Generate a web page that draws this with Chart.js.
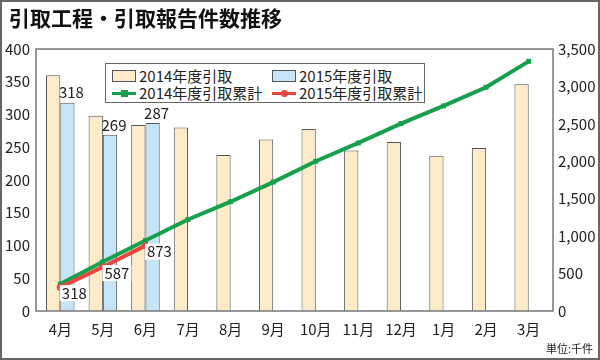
<!DOCTYPE html>
<html lang="ja">
<head>
<meta charset="utf-8">
<script src="https://cdn.jsdelivr.net/npm/chart.js@4.4.1/dist/chart.umd.min.js"></script>
<style>
  html, body { margin: 0; padding: 0; background: #fff; }
  #wrap { position: relative; width: 600px; height: 360px; overflow: hidden;
    font-family: 'Liberation Sans Narrow', 'Noto Sans CJK JP', sans-serif; color: #222; }
  #frame { position: absolute; left: 0; top: 0; width: 600px; height: 360px; box-sizing: border-box;
    border: 2px solid #666; pointer-events: none; }
  #title { position: absolute; left: 9px; top: 3px; font-family: 'Noto Sans CJK JP', sans-serif;
    font-weight: bold; font-size: 21px; line-height: 28px; color: #111; white-space: nowrap; }
  #unit { position: absolute; right: 7px; top: 339px; font-family: 'Noto Sans CJK JP', sans-serif;
    font-size: 11px; line-height: 18px; color: #222; }
  #legend { position: absolute; left: 105px; top: 63px; width: 320px; height: 40px; box-sizing: border-box;
    border: 1.5px solid #666; background: #fff; font-size: 15px; line-height: 17px; }
  .item { position: absolute; white-space: nowrap; display: flex; align-items: center; }
  .sw { display: inline-block; width: 24px; height: 12px; box-sizing: border-box; border: 1px solid #555; margin-right: 3px; }
  .ln { position: relative; display: inline-block; width: 24px; height: 12px; margin-right: 3px; }
  .ln i { position: absolute; left: 0; right: 0; top: 5px; height: 3px; }
  .ln b { position: absolute; left: 9px; top: 3px; width: 7px; height: 7px; }
</style>
</head>
<body>
<div id="wrap">
  <canvas id="c" width="600" height="360"></canvas>
  <div id="title">引取工程・引取報告件数推移</div>
  <div id="legend"></div>
  <div id="unit">単位:千件</div>
  <div id="frame"></div>
</div>
<script>
const months = ['4月','5月','6月','7月','8月','9月','10月','11月','12月','1月','2月','3月'];
const fy2014 = [360, 298, 284, 280, 238, 262, 278, 245, 258, 237, 249, 346];
const fy2015 = [318, 269, 287, null, null, null, null, null, null, null, null, null];
const cum2014 = [360, 658, 942, 1222, 1460, 1722, 2000, 2245, 2503, 2740, 2989, 3335];
const cum2015 = [318, 587, 873, null, null, null, null, null, null, null, null, null];
const leftTicks = [0, 50, 100, 150, 200, 250, 300, 350, 400];
const rightTicks = [0, 500, 1000, 1500, 2000, 2500, 3000, 3500];

const FONT = "'Liberation Sans Narrow', 'Noto Sans CJK JP', sans-serif";
const TAN = '#fdebc9', BLUE = '#c6e4f7', GREEN = '#17a04c', RED = '#e8453c', EDGE = '#555';

// legend (html, inside the plot)
const legendItems = [
  { label: '2014年度引取', kind: 'bar', color: TAN, x: 6, y: 3 },
  { label: '2015年度引取', kind: 'bar', color: BLUE, x: 166, y: 3 },
  { label: '2014年度引取累計', kind: 'line', color: GREEN, x: 6, y: 20, marker: 'rect' },
  { label: '2015年度引取累計', kind: 'line', color: RED, x: 166, y: 20, marker: 'circle' }
];
const legend = document.getElementById('legend');
legendItems.forEach(it => {
  const d = document.createElement('div');
  d.className = 'item';
  d.style.left = it.x + 'px';
  d.style.top = it.y + 'px';
  let sw;
  if (it.kind === 'bar') {
    sw = `<span class="sw" style="background:${it.color}"></span>`;
  } else {
    const r = it.marker === 'circle' ? 'border-radius:50%;' : '';
    sw = `<span class="ln"><i style="background:${it.color}"></i><b style="background:${it.color};${r}"></b></span>`;
  }
  d.innerHTML = sw + '<span>' + it.label + '</span>';
  legend.appendChild(d);
});

// plot frame (a little wider than the category area) + value labels
const extras = {
  id: 'extras',
  afterDatasetsDraw(chart) {
    const ctx = chart.ctx, a = chart.chartArea;
    ctx.save();
    ctx.strokeStyle = '#777';
    ctx.lineWidth = 1.5;
    ctx.strokeRect(a.left - 3, a.top, a.right - a.left + 6, a.bottom - a.top);

    ctx.font = '15px ' + FONT;
    ctx.textAlign = 'center';
    ctx.textBaseline = 'middle';
    ctx.fillStyle = '#222';
    chart.getDatasetMeta(1).data.forEach((bar, i) => {
      if (fy2015[i] == null) return;
      ctx.fillText(String(fy2015[i]), bar.x + 4, bar.y - 10);
    });
    chart.getDatasetMeta(3).data.forEach((pt, i) => {
      if (cum2015[i] == null) return;
      const t = String(cum2015[i]);
      const w = ctx.measureText(t).width;
      const x = pt.x + 14, y = pt.y + 6;
      ctx.fillStyle = '#fff';
      ctx.fillRect(x - w / 2 - 2, y - 8, w + 4, 16);
      ctx.fillStyle = '#222';
      ctx.fillText(t, x, y);
    });
    ctx.restore();
  }
};

new Chart(document.getElementById('c'), {
  data: {
    labels: months,
    datasets: [
      { type: 'bar', label: '2014年度引取', data: fy2014, backgroundColor: TAN, borderColor: EDGE, borderWidth: 1, yAxisID: 'y', order: 2 },
      { type: 'bar', label: '2015年度引取', data: fy2015, backgroundColor: BLUE, borderColor: EDGE, borderWidth: 1, yAxisID: 'y', order: 2 },
      { type: 'line', label: '2014年度引取累計', data: cum2014, borderColor: GREEN, backgroundColor: GREEN, borderWidth: 4,
        pointStyle: 'rect', pointRadius: 3.5, pointBackgroundColor: GREEN, pointBorderWidth: 0, yAxisID: 'y1', order: 1 },
      { type: 'line', label: '2015年度引取累計', data: cum2015, borderColor: RED, backgroundColor: RED, borderWidth: 4,
        pointStyle: 'circle', pointRadius: 3.5, pointBackgroundColor: RED, pointBorderWidth: 0, yAxisID: 'y1', order: 0 }
    ]
  },
  options: {
    responsive: false, animation: false,
    categoryPercentage: 0.67, barPercentage: 1.0,
    layout: { padding: { top: 49, left: 0, right: 0, bottom: 0 } },
    plugins: { legend: { display: false }, tooltip: { enabled: false } },
    scales: {
      x: {
        grid: { display: false, drawTicks: false },
        border: { display: false },
        ticks: { color: '#222', font: { size: 15, family: FONT }, padding: 9, maxRotation: 0, autoSkip: false },
        afterFit(s) { s.height = 49; }
      },
      y: {
        position: 'left', min: 0, max: 400,
        grid: { display: false, drawTicks: false },
        border: { display: false },
        afterBuildTicks(s) { s.ticks = leftTicks.map(v => ({ value: v })); },
        ticks: { color: '#222', font: { size: 15, family: FONT }, padding: 9 },
        afterFit(s) { s.width = 39; }
      },
      y1: {
        position: 'right', min: 0, max: 3500,
        grid: { display: false, drawTicks: false },
        border: { display: false },
        afterBuildTicks(s) { s.ticks = rightTicks.map(v => ({ value: v })); },
        ticks: { color: '#222', font: { size: 15, family: FONT }, padding: 8,
          callback: v => v.toLocaleString('en-US') },
        afterFit(s) { s.width = 50; }
      }
    }
  },
  plugins: [extras]
});
</script>
</body>
</html>
